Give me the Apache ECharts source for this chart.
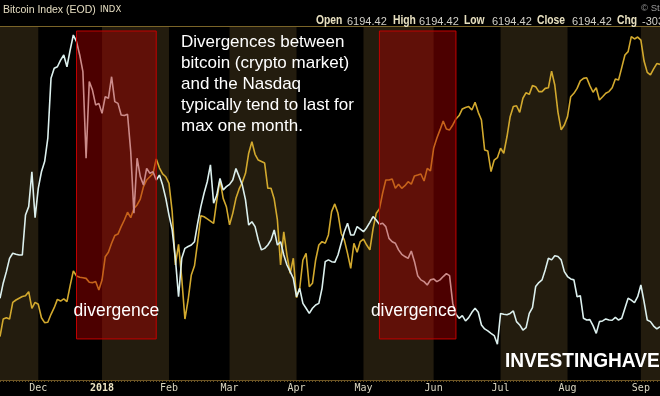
<!DOCTYPE html>
<html><head><meta charset="utf-8">
<script src="https://cdn.jsdelivr.net/npm/echarts@6/dist/echarts.min.js"></script>
<style>html,body{margin:0;padding:0;background:#000;}#c{width:660px;height:396px;}</style>
</head><body><div id="c"></div>
<script>
// Trading days per month (Nasdaq calendar)
const days2017Nov = [14,15,16,17,20,21,22,24,27,28,29,30];
const days2017Dec = [1,4,5,6,7,8,11,12,13,14,15,18,19,20,21,22,26,27,28,29];
const days2018Jan = [2,3,4,5,8,9,10,11,12,16,17,18,19,22,23,24,25,26,29,30,31];
const days2018Feb = [1,2,5,6,7,8,9,12,13,14,15,16,20,21,22,23,26,27,28];
const days2018Mar = [1,2,5,6,7,8,9,12,13,14,15,16,19,20,21,22,23,26,27,28,29];
const days2018Apr = [2,3,4,5,6,9,10,11,12,13,16,17,18,19,20,23,24,25,26,27,30];
const days2018May = [1,2,3,4,7,8,9,10,11,14,15,16,17,18,21,22,23,24,25,29,30,31];
const days2018Jun = [1,4,5,6,7,8,11,12,13,14,15,18,19,20,21,22,25,26,27,28,29];
const days2018Jul = [2,3,5,6,9,10,11,12,13,16,17,18,19,20,23,24,25,26,27,30,31];
const days2018Aug = [1,2,3,6,7,8,9,10,13,14,15,16,17,20,21,22,23,24,27,28,29,30,31];
const days2018Sep = [4,5,6,7,10,11,12];

const monthKeys = ['2017-11','2017-12','2018-01','2018-02','2018-03','2018-04','2018-05','2018-06','2018-07','2018-08','2018-09'];
const monthDays = [days2017Nov,days2017Dec,days2018Jan,days2018Feb,days2018Mar,days2018Apr,days2018May,days2018Jun,days2018Jul,days2018Aug,days2018Sep];
const monthLabels = ['', 'Dec', '2018', 'Feb', 'Mar', 'Apr', 'May', 'Jun', 'Jul', 'Aug', 'Sep'];
const shadedMonths = ['2017-11','2018-01','2018-03','2018-05','2018-07','2018-09'];

// Bitcoin Index (white line)
const bitcoin = [
7280,7960,8480,9080,9310,9260,9230,9230,11030,11410,
12980,10910,12230,12980,13440,14490,17190,17640,17710,18010,
18240,17710,18460,19140,18840,18240,17490,13590,17040,16660,
15990,16060,15610,16360,16290,17260,16140,16060,15540,15510,
15570,13890,11110,13590,12760,12380,13130,12910,12980,12610,
12830,12380,11780,11030,10360,9080,7350,9080,9530,9610,
9680,9830,10660,11410,12010,12530,13290,11560,11930,12680,
12160,12310,12410,12610,13130,12760,12380,11710,10580,10730,
10510,9910,9460,9530,9680,9910,10360,9680,9830,9230,
8780,8480,8180,7350,7730,7050,6830,6600,6830,6980,
7050,7730,8930,9010,8930,8900,9230,9760,10280,10660,
10130,10130,10510,10400,10280,10460,10700,10960,10810,10610,
10660,10510,9980,9830,9760,9460,9260,9160,9080,9410,
8930,8300,8110,8030,7880,8110,8150,8030,8110,8260,
8390,8300,7050,6560,6380,6500,6260,6410,6650,6830,
6650,6080,5900,5810,5700,5600,5210,6600,6560,6540,
6600,6710,6230,6080,5850,5960,6600,6860,7810,7990,
8110,8560,9080,9010,9200,9160,9010,8480,8260,8150,
8110,7350,7400,6380,6300,6320,6050,5700,6230,6260,
6350,6300,6290,6420,6300,6380,6830,7280,7200,7080,
7350,7880,7130,6300,6230,6030,5900,6000];

// Nasdaq Composite (gold line)
const nasdaq = [
6703,6785,6791,6785,6863,6874,6882,6890,6894,6913,
6835,6863,6854,6791,6768,6770,6807,6838,6877,6869,
6879,6866,6941,7010,6986,6980,6978,6975,6957,6955,
6960,6921,6967,7076,7097,7139,7175,7182,7217,7248,
7284,7259,7302,7318,7346,7404,7435,7450,7466,7533,
7492,7463,7450,7419,7287,7038,7134,6975,6785,6874,
6991,7034,7147,7268,7263,7253,7243,7232,7341,7435,
7349,7310,7225,7279,7349,7393,7424,7466,7560,7614,
7555,7528,7521,7514,7396,7396,7346,7248,7038,7193,
7084,6999,7069,6885,6929,7061,7092,6936,6952,7061,
7131,7147,7139,7178,7287,7323,7279,7186,7154,7092,
7022,7139,7097,7147,7159,7131,7108,7206,7279,7299,
7373,7435,7435,7440,7396,7415,7396,7408,7427,7415,
7454,7458,7463,7430,7489,7477,7583,7630,7669,7711,
7673,7669,7692,7720,7736,7767,7774,7778,7762,7798,
7751,7715,7575,7570,7474,7528,7539,7583,7560,7637,
7731,7778,7782,7751,7817,7843,7835,7876,7871,7848,
7848,7863,7866,7944,7879,7751,7669,7692,7731,7824,
7840,7863,7898,7910,7913,7876,7845,7866,7809,7824,
7840,7848,7866,7907,7902,7960,8019,8035,8105,8094,
8103,8089,7991,7938,7926,7954,7979,7975];

const divergenceStarts = ['2017-12-19','2018-05-08'];
const divergenceEnds = ['2018-01-26','2018-06-12'];
const divergenceLabels = ['divergence','divergence'];
const divergenceTop = 19320, divergenceBottom = 5450;

const headerFields = ['Open','High','Low','Close','Chg'];
const headerValues = ['6194.42','6194.42','6194.42','6194.42','-303.58'];
const noteText = 'Divergences between\nbitcoin (crypto market)\nand the Nasdaq\ntypically tend to last for\nmax one month.';

// Build categories
const pad = n => (n < 10 ? '0' : '') + n;
const categories = [];
const monthStart = {};
const labelMap = {};
monthKeys.forEach((mk, i) => {
  monthDays[i].forEach((d, j) => {
    const s = mk + '-' + pad(d);
    categories.push(s);
    if (j === 0) { monthStart[mk] = s; if (monthLabels[i]) labelMap[s] = monthLabels[i]; }
  });
});
const yearStart = monthStart['2018-01'];

const bandData = shadedMonths.map(mk => {
  const i = monthKeys.indexOf(mk);
  const end = i + 1 < monthKeys.length ? monthStart[monthKeys[i + 1]] : categories[categories.length - 1];
  return [{ xAxis: monthStart[mk] }, { xAxis: end }];
});
const redData = divergenceStarts.map((s, i) => [
  { xAxis: s, yAxis: divergenceTop, name: divergenceLabels[i], label: { offset: [i === 1 ? -4 : 0, 0] } },
  { xAxis: divergenceEnds[i], yAxis: divergenceBottom }
]);

const headerPos = [[316,347],[393,419],[464,492],[537,572],[617,642]];
const graphics = [
  { type: 'line', shape: { x1: 0, y1: 26.5, x2: 660, y2: 26.5 }, style: { stroke: '#7a6428', lineWidth: 1 }, z: 20 },
  { type: 'text', x: 3, y: 10, style: { text: 'Bitcoin Index (EOD)', fill: '#e4dcc0', font: '10.5px "Liberation Sans", Arial', verticalAlign: 'middle' }, z: 20 },
  { type: 'text', x: 100, y: 10, style: { text: 'INDX', fill: '#e4dcc0', font: '8.5px "DejaVu Sans"', verticalAlign: 'middle' }, z: 20 },
  { type: 'text', x: 641, y: 8, style: { text: '\u00a9 StockCharts.com', fill: '#9a9a9a', font: '9.5px "Liberation Sans", Arial', verticalAlign: 'middle' }, z: 20 },
  { type: 'text', x: 181, y: 32, style: { text: noteText, fill: '#ffffff', font: '17px "Liberation Sans", Arial', lineHeight: 21, verticalAlign: 'top' }, z: 30 },
  { type: 'text', x: 505, y: 361, scaleX: 0.91, style: { text: 'INVESTINGHAVEN', fill: '#ffffff', font: 'bold 21px "Liberation Sans", Arial', verticalAlign: 'middle' }, z: 30 }
];
headerFields.forEach((f, i) => {
  graphics.push({ type: 'text', x: headerPos[i][0], y: 21, scaleX: 0.86, style: { text: f, fill: '#e8e0c0', font: 'bold 12px "Liberation Sans", Arial', verticalAlign: 'middle' }, z: 20 });
  graphics.push({ type: 'text', x: headerPos[i][1], y: 21.5, style: { text: headerValues[i], fill: '#d2d0c8', font: '11px "Liberation Sans", Arial', verticalAlign: 'middle' }, z: 20 });
});

const chart = echarts.init(document.getElementById('c'), null, { renderer: 'canvas' });
chart.setOption({
  backgroundColor: '#000000',
  animation: false,
  grid: { left: 0, right: 0, top: 27, bottom: 16 },
  xAxis: {
    type: 'category', data: categories, boundaryGap: false,
    axisLine: { show: true, lineStyle: { color: '#6b5424', width: 1 } },
    axisTick: { show: true, interval: 0, length: 2, lineStyle: { color: '#6b5424' } },
    axisLabel: {
      interval: (i, v) => labelMap[v] !== undefined,
      formatter: v => (v === yearStart ? '{y|' + labelMap[v] + '}' : labelMap[v]),
      color: '#d8d4c0', fontFamily: '"DejaVu Sans Mono", monospace', fontSize: 10, margin: 3,
      rich: { y: { fontWeight: 'bold', color: '#ece4c4', fontFamily: '"DejaVu Sans Mono", monospace', fontSize: 10 } }
    },
    splitLine: { show: false }
  },
  yAxis: [
    { type: 'value', min: 3600, max: 19500, show: false, splitLine: { show: false } },
    { type: 'value', min: 6500, max: 8150, show: false, splitLine: { show: false } }
  ],
  series: [
    {
      name: 'Nasdaq', type: 'line', data: nasdaq, yAxisIndex: 1, symbol: 'none', z: 2,
      lineStyle: { color: '#d2a92e', width: 1.6 },
      markArea: { silent: true, z: 0, itemStyle: { color: '#231c0e' }, data: bandData }
    },
    {
      name: 'Bitcoin', type: 'line', data: bitcoin, yAxisIndex: 0, symbol: 'none', z: 3,
      lineStyle: { color: '#dcf0ee', width: 1.6 },
      markArea: {
        silent: true, z: 5,
        itemStyle: { color: 'rgba(180,0,0,0.42)', borderColor: '#c40000', borderWidth: 1 },
        label: { show: true, position: 'insideBottom', distance: 19, color: '#ffffff', fontSize: 17.5, fontFamily: '"Liberation Sans", Arial', formatter: '{b}' },
        data: redData
      }
    }
  ],
  graphic: graphics
});
</script>
</body></html>
